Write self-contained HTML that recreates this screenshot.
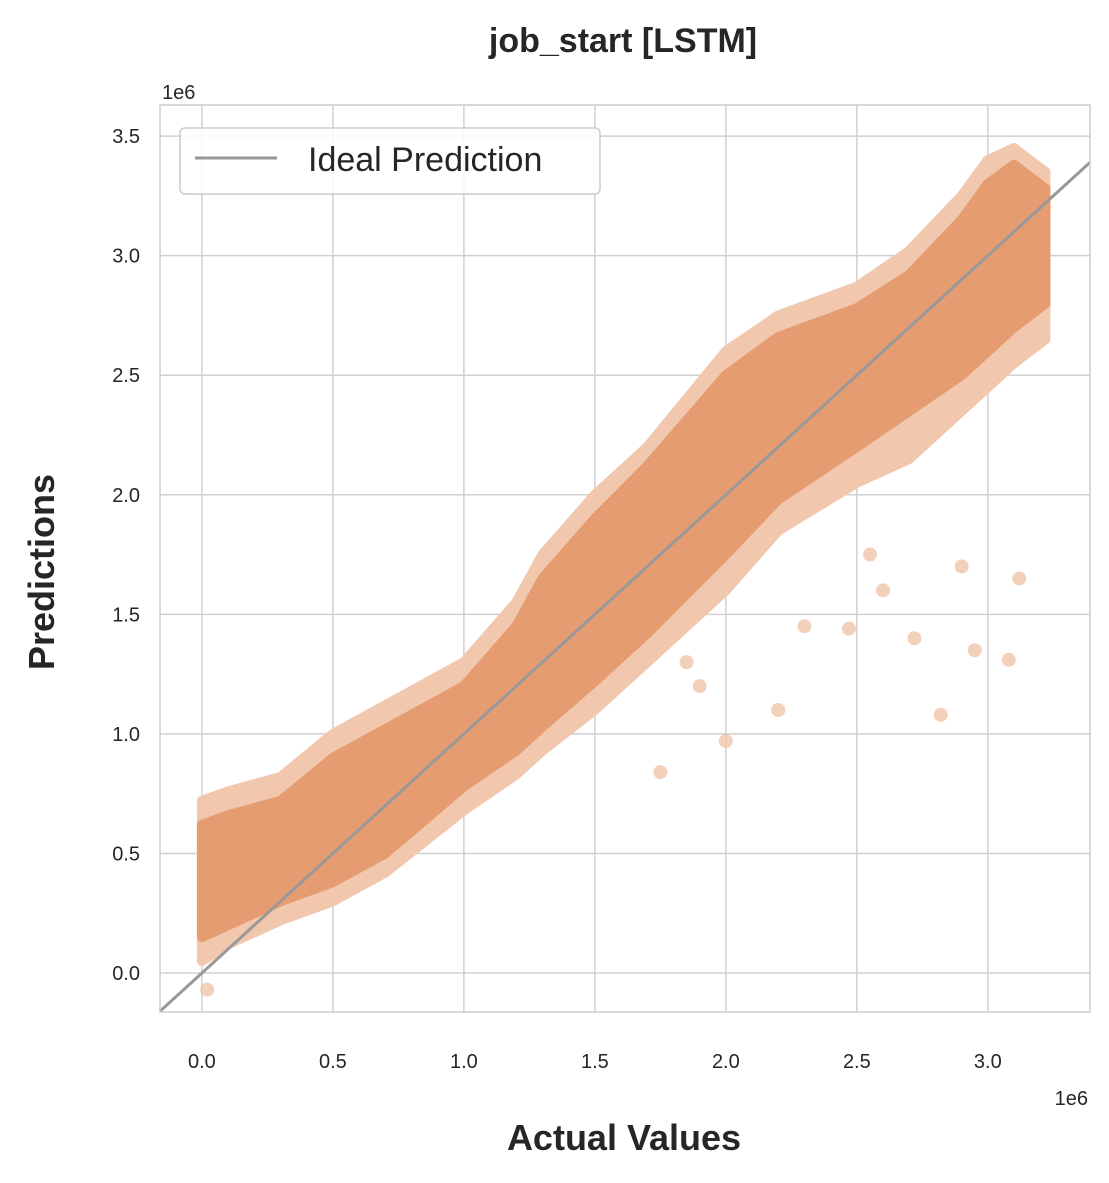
<!DOCTYPE html>
<html><head><meta charset="utf-8"><style>
body{margin:0;background:#fff;}
text{font-family:"Liberation Sans",Arial,sans-serif;fill:#262626;}
</style></head><body>
<svg id="chart" width="1109" height="1178" xmlns="http://www.w3.org/2000/svg">
<text x="623" y="52" text-anchor="middle" font-size="34" font-weight="bold">job_start [LSTM]</text>
<g id="grid"></g>
<g id="band"></g>
<g id="outliers"></g>
<g id="ideal"></g>
<rect x="160" y="105" width="930" height="907" fill="none" stroke="#cccccc" stroke-width="1.5"/>
<g id="ticks"></g>
<text x="1088" y="1105" text-anchor="end" font-size="20">1e6</text>
<text x="162" y="99" font-size="20">1e6</text>
<text x="624" y="1150" text-anchor="middle" font-size="36" font-weight="bold">Actual Values</text>
<text transform="translate(54,572) rotate(-90)" text-anchor="middle" font-size="36" font-weight="bold">Predictions</text>
<g>
<rect x="180" y="128" width="420" height="66" rx="5" fill="#fff" fill-opacity="0.85" stroke="#cccccc" stroke-width="1.5"/>
<line x1="195" y1="158" x2="277" y2="158" stroke="#999" stroke-width="3"/>
<text x="308" y="171" font-size="34">Ideal Prediction</text>
</g>
</svg>
<script>
const xTicks=[0,0.5,1.0,1.5,2.0,2.5,3.0];
const yTicks=[0,0.5,1.0,1.5,2.0,2.5,3.0,3.5];
const bandX=[0,0.1,0.3,0.5,0.7,1.0,1.2,1.3,1.5,1.7,2.0,2.2,2.5,2.7,2.9,3.0,3.1,3.22];
const bandLow=[0.05,0.12,0.22,0.3,0.42,0.68,0.83,0.93,1.1,1.3,1.6,1.85,2.05,2.15,2.35,2.45,2.55,2.65];
const bandHigh=[0.72,0.76,0.82,1.0,1.12,1.3,1.55,1.75,2.0,2.2,2.6,2.75,2.87,3.02,3.25,3.4,3.45,3.35];
const coreLow=[0.15,0.2,0.3,0.38,0.5,0.78,0.93,1.03,1.22,1.42,1.75,1.98,2.2,2.35,2.5,2.6,2.7,2.8];
const coreHigh=[0.62,0.66,0.72,0.9,1.02,1.2,1.45,1.65,1.9,2.12,2.5,2.66,2.78,2.92,3.15,3.3,3.38,3.28];
const outX=[2.0,1.75,2.82,2.72,2.95,3.08,3.12,2.2,2.47,2.6,1.9,2.9,0.02,2.3,1.85,2.55];
const outY=[0.97,0.84,1.08,1.4,1.35,1.31,1.65,1.1,1.44,1.6,1.2,1.7,-0.07,1.45,1.3,1.75];
const X0=-0.16,X1=3.39,Y0=-0.163,Y1=3.63;
const sx=v=>160+(v-X0)/(X1-X0)*930, sy=v=>1012-(v-Y0)/(Y1-Y0)*907;
const NS="http://www.w3.org/2000/svg";
function mk(t,p,a){const e=document.createElementNS(NS,t);for(const k in a)e.setAttribute(k,a[k]);p.appendChild(e);return e;}
const grid=document.getElementById('grid'),ticks=document.getElementById('ticks');
xTicks.forEach(v=>{const l=mk('line',grid,{x1:sx(v),x2:sx(v),y1:105,y2:1012,stroke:'#d0d0d0','stroke-width':1.5});

const t=mk('text',ticks,{x:sx(v),y:1068,'text-anchor':'middle','font-size':20});t.textContent=v.toFixed(1);
});
yTicks.forEach(v=>{const l=mk('line',grid,{x1:160,x2:1090,y1:sy(v),y2:sy(v),stroke:'#d0d0d0','stroke-width':1.5});

const t=mk('text',ticks,{x:140,y:sy(v)+7,'text-anchor':'end','font-size':20});t.textContent=v.toFixed(1);
});
function poly(lo,hi,fill,op,name){let pts=bandX.map((x,i)=>sx(x)+','+sy(hi[i]));
for(let i=bandX.length-1;i>=0;i--)pts.push(sx(bandX[i])+','+sy(lo[i]));
const p=mk('polygon',document.getElementById('band'),{points:pts.join(' '),fill:fill,'fill-opacity':op,stroke:fill,'stroke-width':10,'stroke-linejoin':'round','stroke-opacity':op});
}
poly(bandLow,bandHigh,'#f1c8ae',1,'scatter-band-outer');
poly(coreLow,coreHigh,'#e59c70',1,'scatter-band-core');
outX.forEach((x,i)=>{const c=mk('circle',document.getElementById('outliers'),{cx:sx(x),cy:sy(outY[i]),r:7,fill:'#f0c4a8','fill-opacity':0.8});
});
const ln=mk('line',document.getElementById('ideal'),{x1:sx(X0),y1:sy(X0),x2:sx(X1),y2:sy(X1),stroke:'#999','stroke-width':3});

</script>
</body></html>
